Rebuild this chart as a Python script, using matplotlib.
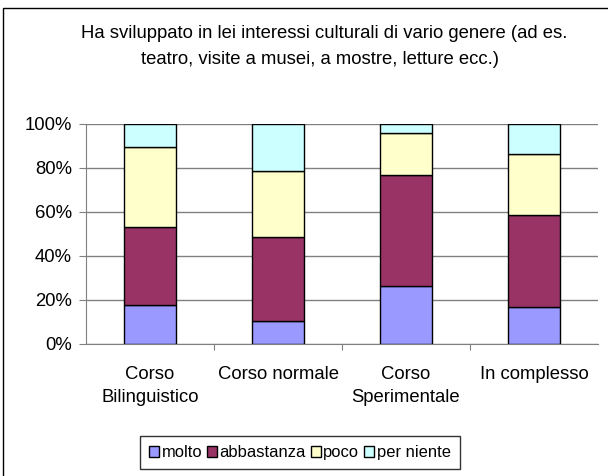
import matplotlib.pyplot as plt
import numpy as np
from matplotlib.patches import Rectangle

plt.rcParams['font.family'] = ['Liberation Sans', 'DejaVu Sans']

categories = ['Corso\nBilinguistico', 'Corso normale', 'Corso\nSperimentale', 'In complesso']
molto = [17.8, 10.6, 26.3, 16.9]
abbastanza = [35.4, 37.9, 50.4, 41.8]
poco = [36.2, 30.1, 19.2, 27.8]
per_niente = [10.6, 21.4, 4.1, 13.5]

series = [('molto', molto, '#9999FF'),
          ('abbastanza', abbastanza, '#993366'),
          ('poco', poco, '#FFFFCC'),
          ('per niente', per_niente, '#CCFFFF')]

fs = 13.3

fig = plt.figure(figsize=(6.08, 4.76), dpi=100)
# chart frame (cropped on the right and bottom like the original)
fig.patches.append(Rectangle((3/608, -0.1), 1.2, 1 - 8/476 + 0.1, transform=fig.transFigure,
                             fill=False, edgecolor='black', linewidth=1))

ax = fig.add_axes([86/608, 1-344/476, 512/608, 220/476])
x = np.arange(len(categories))
bottom = np.zeros(len(categories))
for name, vals, col in series:
    ax.bar(x, vals, 0.41, bottom=bottom, color=col, edgecolor='black', linewidth=1, label=name, zorder=3)
    bottom += np.array(vals)

ax.set_xlim(-0.5, 3.5)
ax.set_ylim(0, 100)
ax.set_yticks(range(0, 101, 20))
ax.set_yticklabels([f'{v}%' for v in range(0, 101, 20)], fontsize=fs)
ax.yaxis.grid(True, color='#808080', linewidth=1, zorder=0)
ax.set_xticks([0.5, 1.5, 2.5], minor=False)
ax.set_xticklabels([])
ax.set_xticks(x, minor=True)
ax.set_xticklabels(categories, minor=True, fontsize=fs, linespacing=1.45)
ax.tick_params(axis='x', which='minor', length=0, pad=16)
ax.tick_params(axis='x', which='major', length=4, color='#808080', direction='out')
ax.tick_params(axis='y', length=5, color='#808080', pad=5)
for s in ['top', 'right']:
    ax.spines[s].set_visible(False)
ax.spines['left'].set_color('#808080')
ax.spines['bottom'].set_color('#808080')

fig.text(324/608, 1-34/476, 'Ha sviluppato in lei interessi culturali di vario genere (ad es.',
         ha='center', va='center', fontsize=fs)
fig.text(320/608, 1-60/476, 'teatro, visite a musei, a mostre, letture ecc.)',
         ha='center', va='center', fontsize=fs)

leg = fig.legend(loc='upper center', bbox_to_anchor=(300/608, 1-436/476), ncol=4, fontsize=11.9,
                 frameon=True, fancybox=False, edgecolor='black', handlelength=0.6, handleheight=0.6,
                 handletextpad=0.15, columnspacing=0.3, borderpad=0.55, borderaxespad=0)
leg.get_frame().set_linewidth(1)

fig.savefig('out.png', dpi=100)
